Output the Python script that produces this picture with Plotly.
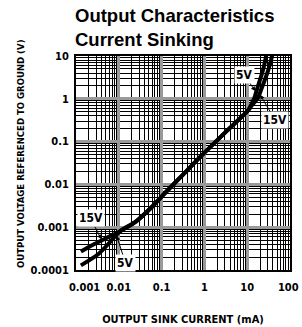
import math
import plotly.graph_objects as go

# ---- data ----
x_15v = [0.0013, 0.0025, 0.005, 0.011, 0.025, 0.06, 0.1, 0.3, 0.8, 3, 10.7, 13, 17.8, 21, 31, 38, 42]
y_15v = [0.00027, 0.00039, 0.00055, 0.00082, 0.00135, 0.003, 0.0052, 0.016, 0.044, 0.16, 0.55, 0.72, 1.05, 1.6, 4.7, 10, 20]
x_5v = [0.0013, 0.0034, 0.006, 0.011, 0.025, 0.06, 0.1, 0.3, 0.8, 3, 10.7, 12.5, 14.5, 16.7, 23.4, 27.6, 30]
y_5v = [0.000128, 0.00024, 0.00043, 0.00082, 0.00135, 0.003, 0.0052, 0.016, 0.044, 0.16, 0.55, 0.75, 1.0, 1.6, 4.7, 10, 20]

x_tickvals = [0.001, 0.01, 0.1, 1, 10, 100]
x_ticktext = ["\u00a0\u00a0\u00a0\u00a0\u00a00.001", "0.01", "0.1", "1", "10", "100\u00a0"]
y_tickvals = [0.0001, 0.001, 0.01, 0.1, 1, 10]
y_ticktext = ["0.0001", "0.001", "0.01", "0.1", "1", "10"]

title_text = "Output Characteristics<br>Current Sinking"
x_title = "OUTPUT SINK CURRENT (mA)"
y_title = "OUTPUT VOLTAGE REFERENCED TO GROUND (V)"

# label (text, label x, label y, arrow tip x, arrow tip y)
labels = [
    ("5V", 8.5, 3.6, 16.0, 1.45),
    ("15V", 45, 0.32, 19.5, 1.3),
    ("15V", 0.0022, 0.0016, 0.004, 0.0005),
    ("5V", 0.0143, 0.000145, 0.0088, 0.00066),
]

NARROW = "DejaVu Sans Condensed, Liberation Sans Narrow, Liberation Sans, sans-serif"

W, H = 302, 327
ML, MR, MT, MB = 76, 12, 56, 57
PH = H - MT - MB
PW = W - ML - MR

fig = go.Figure()
for xs, ys in [(x_15v, y_15v), (x_5v, y_5v)]:
    fig.add_trace(go.Scatter(x=xs, y=ys, mode="lines", line=dict(color="black", width=4, shape="spline", smoothing=0.8),
                             showlegend=False, hoverinfo="skip", cliponaxis=True))

for t, lx, ly, tx, ty in labels:
    fig.add_annotation(x=math.log10(tx), y=math.log10(ty), ax=math.log10(lx), ay=math.log10(ly),
                       xref="x", yref="y", axref="x", ayref="y", text="<b>%s</b>" % t,
                       showarrow=True, arrowhead=2, arrowsize=0.9, arrowwidth=1, arrowcolor="black",
                       bgcolor="white", borderpad=1, standoff=1,
                       font=dict(family=NARROW, size=12, color="black"))

# title as an annotation above the plot area
fig.add_annotation(x=0, xref="paper", xanchor="left", y=1 + (MT - 3) / PH, yref="paper", yanchor="top",
                   text="<b>%s</b>" % title_text, showarrow=False, align="left", xshift=-3,
                   font=dict(family="Liberation Sans, Arial, sans-serif", size=18.5, color="black"))

# y axis title as a rotated annotation
fig.add_annotation(x=(20 - ML) / PW, xref="paper", xanchor="center", y=(H - MB - 154) / PH, yref="paper",
                   yanchor="middle", text="<b>%s</b>" % y_title, showarrow=False, textangle=-90,
                   font=dict(family=NARROW, size=9.5, color="black"))

axis_common = dict(
    type="log", showgrid=True, gridcolor="#9a9a9a", gridwidth=3, automargin=False,
    showline=True, linecolor="black", linewidth=2, mirror=True, ticks="",
    tickfont=dict(family=NARROW, size=11, color="black", weight="bold"),
    tickmode="array", zeroline=False,
    minor=dict(dtick="D1", showgrid=True, gridcolor="black", gridwidth=1, ticks=""),
)

fig.update_xaxes(**axis_common, range=[-3, 2], tickvals=x_tickvals, ticktext=x_ticktext,
                 ticklabeloverflow="allow", ticklabelstandoff=6,
                 title=dict(text=x_title, font=dict(family=NARROW, size=11, color="black", weight="bold"), standoff=22))
fig.update_yaxes(**axis_common, range=[-4, 1], tickvals=y_tickvals, ticktext=y_ticktext, ticklabelstandoff=3)

fig.update_layout(
    width=W, height=H,
    margin=dict(l=ML, r=MR, t=MT, b=MB),
    paper_bgcolor="white", plot_bgcolor="white",
)

fig.write_html("out.html", config={"displayModeBar": False},
               post_script="document.body.style.margin='0px';")
